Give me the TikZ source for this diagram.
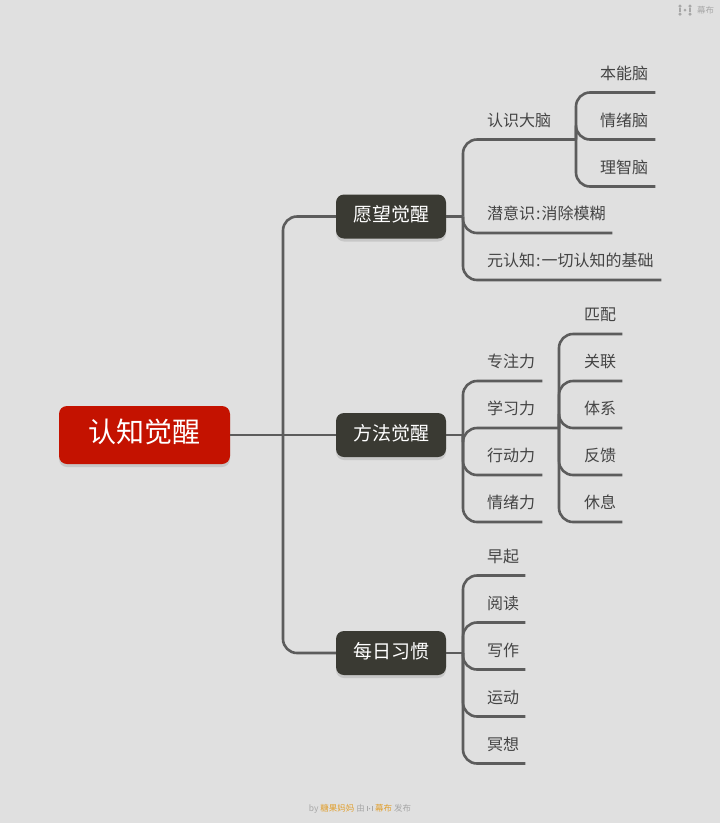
\documentclass[tikz,border=0pt]{standalone}
\usepackage{fontspec}
\setmainfont{Noto Sans CJK SC}
\usetikzlibrary{shadows}

\definecolor{paper}{HTML}{E0E0E0}
\definecolor{rootred}{HTML}{C41200}
\definecolor{boxdark}{HTML}{3A3A33}
\definecolor{wirecol}{HTML}{5C5C5C}
\definecolor{ink}{HTML}{444444}
\definecolor{gold}{HTML}{E0A030}
\definecolor{faint}{HTML}{A8A8A8}

\begin{document}
\begin{tikzpicture}[x=1pt,y=-1pt,
        root/.style = {rectangle, rounded corners=8pt,
            minimum width=171pt, minimum height=58pt, inner sep=0pt,
            text height=24pt, text depth=8.8pt,
            fill=rootred, text=white, font=\fontsize{28}{30}\selectfont,
            drop shadow={shadow xshift=0pt,shadow yshift=-3pt,opacity=.25}},
        topic/.style = {rectangle, rounded corners=8pt,
            minimum width=110pt, minimum height=44pt, inner sep=0pt,
            text height=16pt, text depth=6pt,
            fill=boxdark, text=white, font=\fontsize{19}{21}\selectfont,
            drop shadow={shadow xshift=0pt,shadow yshift=-3pt,opacity=.25}},
        leaf/.style = {anchor=south west, inner sep=0pt, minimum height=38pt,
            align=left, text=ink, font=\fontsize{16}{18}\selectfont},
        wire/.style = {draw=wirecol, line width=2.6pt},
        branch/.style = {wire, rounded corners=14pt},
        note/.style = {inner sep=0pt, font=\fontsize{8.5}{10}\selectfont, text=faint},
        dot/.style = {circle, fill=faint, inner sep=0pt, minimum size=3.5pt}]

    % Page
    \useasboundingbox (0,0) rectangle (720,823);
    \fill[paper] (0,0) rectangle (720,823);

    % Root and topics
    \node[root] (root) at (144.5,435) {认知觉醒};
    \node[topic] (wish) at (391,216.5) {愿望觉醒};
    \node[topic] (method) at (391,435) {方法觉醒};
    \node[topic] (habit) at (391,653) {每日习惯};

    % Junctions on the vertical lines
    \coordinate (rootjoin) at (283,435);
    \coordinate (wishjoin) at (463,216.5);
    \coordinate (methodjoin) at (463,435);
    \coordinate (habitjoin) at (463,653);
    \coordinate (brainjoin) at (576,139.5);
    \coordinate (learnjoin) at (559,428);

    % Wish leaves
    \node[leaf,text width=89pt] (brain) at (487,139.5) {认识大脑};
    \node[leaf,text width=125pt] (hidden) at (487,233) {潜意识\kern1pt:\kern1pt消除模糊};
    \node[leaf,text width=174pt] (meta) at (487,280) {元认知\kern1pt:\kern1pt一切认知的基础};
    \node[leaf,text width=55pt] (instinct) at (600,92.5) {本能脑};
    \node[leaf,text width=55pt] (emotion) at (600,139.5) {情绪脑};
    \node[leaf,text width=55pt] (reason) at (600,186.5) {理智脑};

    % Method leaves
    \node[leaf,text width=55pt] (focus) at (487,381) {专注力};
    \node[leaf,text width=72pt] (learn) at (487,428) {学习力};
    \node[leaf,text width=55pt] (act) at (487,475) {行动力};
    \node[leaf,text width=55pt] (mood) at (487,522) {情绪力};
    \node[leaf,text width=38pt] (match) at (584,334) {匹配};
    \node[leaf,text width=38pt] (link) at (584,381) {关联};
    \node[leaf,text width=38pt] (system) at (584,428) {体系};
    \node[leaf,text width=38pt] (reply) at (584,475) {反馈};
    \node[leaf,text width=38pt] (rest) at (584,522) {休息};

    % Habit leaves
    \node[leaf,text width=38pt] (early) at (487,575.5) {早起};
    \node[leaf,text width=38pt] (read) at (487,622.5) {阅读};
    \node[leaf,text width=38pt] (write) at (487,669.5) {写作};
    \node[leaf,text width=38pt] (sport) at (487,716.5) {运动};
    \node[leaf,text width=38pt] (calm) at (487,763.5) {冥想};

    % Straight stubs
    \draw[wire] (root.east) -- (method.west);
    \draw[wire] (wish.east) -- (wishjoin);
    \draw[wire] (method.east) -- (methodjoin);
    \draw[wire] (habit.east) -- (habitjoin);

    % Root to topics
    \draw[branch] (rootjoin) |- (wish.west);
    \draw[branch] (rootjoin) |- (habit.west);

    % Underlines with their curves
    \foreach \from/\to in {wishjoin/brain, wishjoin/hidden, wishjoin/meta,
            methodjoin/focus, methodjoin/learn, methodjoin/act, methodjoin/mood,
            habitjoin/early, habitjoin/read, habitjoin/write, habitjoin/sport, habitjoin/calm,
            brainjoin/instinct, brainjoin/emotion, brainjoin/reason,
            learnjoin/match, learnjoin/link, learnjoin/system, learnjoin/reply, learnjoin/rest}
        \draw[branch] (\from) |- (\to.south east);

    % Mark at top right
    \node[dot] (marka) at (680,6) {};
    \node[dot] (markb) at (680,14) {};
    \node[dot] (markc) at (690,6) {};
    \node[dot] (markd) at (690,14) {};
    \node[dot,minimum size=3pt] (marke) at (685,10) {};
    \draw[faint,line width=1.2pt] (marka) -- (markb);
    \draw[faint,line width=1.2pt] (markc) -- (markd);
    \node[note,anchor=west] (brand) at (697,10.5) {幕布};

    % Footer
    \node[note,anchor=east] (byline) at (365,808.5) {by \textcolor{gold}{糖果妈妈} 由};
    \node[note,anchor=west] (publish) at (375,808.5) {\textcolor{gold}{幕布} 发布};
    \node[dot,minimum size=1.5pt] (marks) at (369.5,808.5) {};
    \draw[faint,line width=.6pt] (367,806) -- (367,811);
    \draw[faint,line width=.6pt] (372,806) -- (372,811);

\end{tikzpicture}
\end{document}
